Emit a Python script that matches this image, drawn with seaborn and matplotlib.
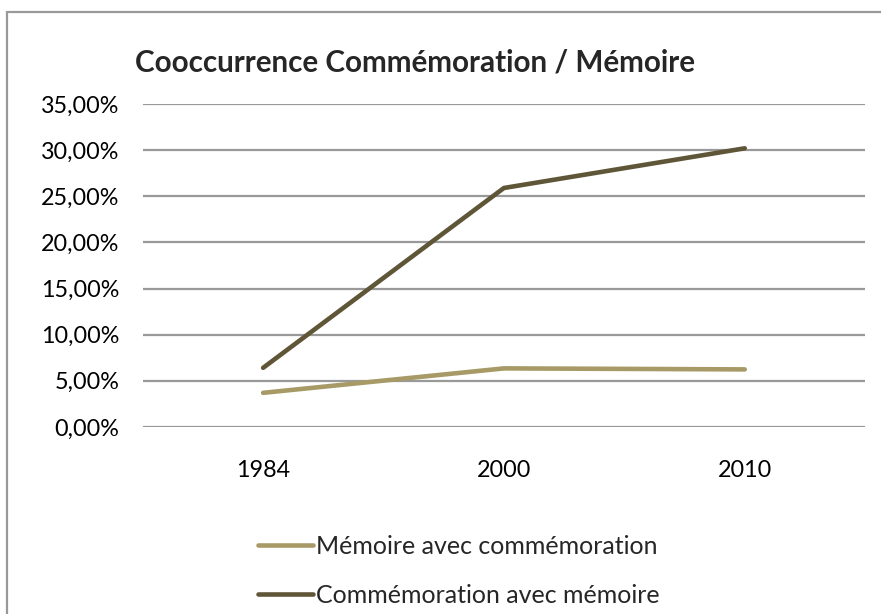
import matplotlib
matplotlib.use("Agg")
import matplotlib.pyplot as plt
import matplotlib.patches as patches
from matplotlib.ticker import FuncFormatter
import pandas as pd
import seaborn as sns

years = ["1984", "2000", "2010"]
memoire_avec_comm = [0.0370, 0.0635, 0.0624]
comm_avec_memoire = [0.0641, 0.2590, 0.3020]
series_names = ["Mémoire avec commémoration", "Commémoration avec mémoire"]
colors = ["#A89A66", "#5F5638"]

df = pd.DataFrame({
    "Année": years * 2,
    "Valeur": memoire_avec_comm + comm_avec_memoire,
    "Série": [series_names[0]] * 3 + [series_names[1]] * 3,
})

sns.set_style("white")
plt.rcParams["font.family"] = ["Lato", "DejaVu Sans"]

fig = plt.figure(figsize=(8.81, 6.14), dpi=100)
ax = fig.add_axes([0.162, 0.3046, 0.820, 0.5260])

sns.lineplot(data=df, x="Année", y="Valeur", hue="Série", palette=colors,
             linewidth=3.3, ax=ax, sort=False)
for ln in ax.get_lines():
    ln.set_solid_capstyle("round")

ax.set_ylim(0, 0.35)
ax.set_xlim(-0.5, 2.5)
ax.set_yticks([i * 0.05 for i in range(8)])
ax.yaxis.set_major_formatter(FuncFormatter(lambda v, p: f"{v*100:.2f}%".replace(".", ",")))
ax.grid(axis="y", color="#999999", linewidth=1.6)
ax.set_axisbelow(True)
for s in ax.spines.values():
    s.set_visible(False)
ax.tick_params(axis="both", length=0, labelsize=16.8, colors="#000000")
ax.tick_params(axis="x", pad=24)
ax.tick_params(axis="y", pad=17)
ax.set_xlabel("")
ax.set_ylabel("")

fig.text(0.153, 0.899, "Cooccurrence Commémoration / Mémoire", fontsize=21.3,
         fontweight="bold", ha="left", va="center")

handles, labels = ax.get_legend_handles_labels()
ax.legend(handles, labels, loc="upper left", bbox_to_anchor=(245 / 881, 1 - 522 / 614),
          bbox_transform=fig.transFigure, frameon=False, fontsize=18,
          borderpad=0, handlelength=2.2, handletextpad=0.15, labelspacing=1.05)

border = patches.Rectangle((7 / 881, -0.1), 1.0, 1 - 12 / 614 + 0.1,
                           transform=fig.transFigure, fill=False,
                           edgecolor="#999999", linewidth=1.6)
fig.patches.append(border)

fig.savefig("out.png", dpi=100)
